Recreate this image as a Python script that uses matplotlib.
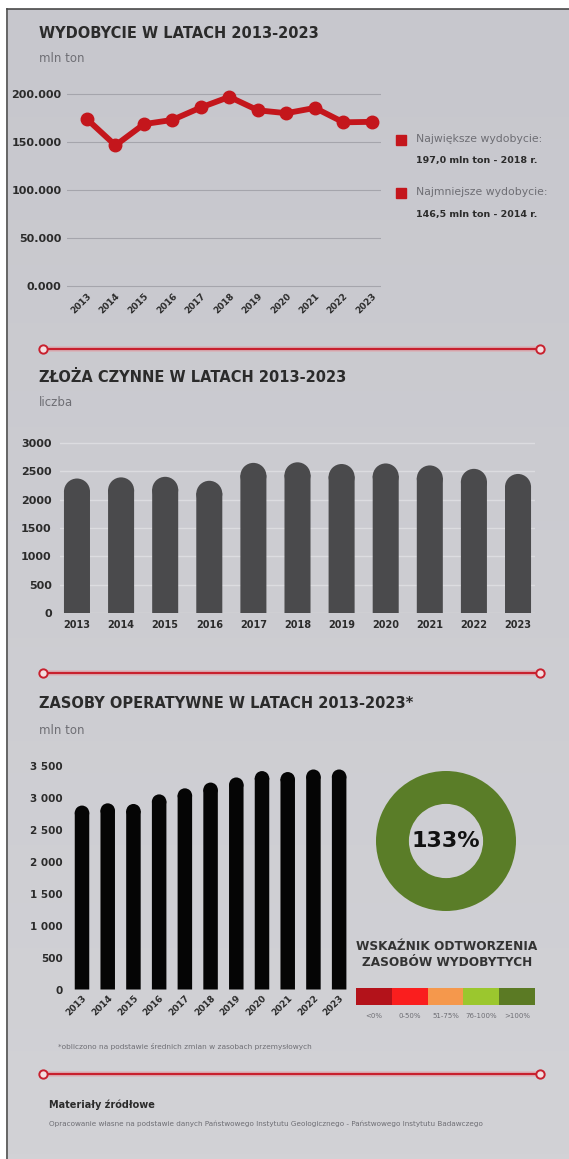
import numpy as np
import matplotlib
matplotlib.use("Agg")
import matplotlib.pyplot as plt
from matplotlib.patches import Ellipse
from matplotlib.ticker import FuncFormatter
from matplotlib.colors import LinearSegmentedColormap

W, H = 569, 1159

years = [str(y) for y in range(2013, 2024)]
# wydobycie, mln ton
wydobycie = [173.8, 146.5, 168.6, 173.0, 186.0, 197.0, 183.0, 180.0, 185.5, 170.5, 171.0]
# liczba zloz czynnych
zloza = [2370, 2390, 2400, 2330, 2645, 2655, 2625, 2635, 2600, 2540, 2450]
# zasoby operatywne, mln ton
zasoby = [2880, 2915, 2905, 3055, 3150, 3240, 3320, 3420, 3405, 3445, 3445]
wskaznik = 133
skala_labels = ["<0%", "0-50%", "51-75%", "76-100%", ">100%"]
skala_colors = ["#b3121a", "#fa1e1e", "#f5984c", "#9bc72e", "#5b7a24"]

RED = "#c4161c"
DARK = "#2b2b2b"
GRAY = "#6e6e74"

plt.rcParams['font.family'] = 'DejaVu Sans'

fig = plt.figure(figsize=(W / 100, H / 100), dpi=100)


def box(x0, y0, x1, y1):
    # pixel box (top-left origin) -> figure fraction rect
    return [x0 / W, 1 - y1 / H, (x1 - x0) / W, (y1 - y0) / H]


def clean(ax):
    ax.set_facecolor('none')
    for s in ax.spines.values():
        s.set_visible(False)
    ax.tick_params(length=0)


def rounded_bars(ax, values, width, color):
    # bars with a half-round cap on top; cap height follows the axes scale
    x0, x1 = ax.get_xlim()
    y0, y1 = ax.get_ylim()
    bb = ax.get_position()
    px_x = bb.width * W / (x1 - x0)
    px_y = bb.height * H / (y1 - y0)
    cap = width / 2 * px_x / px_y
    for i, v in enumerate(values):
        bars = ax.bar(i, v - cap * 0.95, width=width, color=color, linewidth=0, zorder=2)
        for b in bars:
            b.set_snap(False)
        ax.add_patch(Ellipse((i, v - cap), width, 2 * cap, facecolor=color,
                             edgecolor='none', linewidth=0, zorder=2))


# background panel
bg = fig.add_axes([0, 0, 1, 1])
grad = np.linspace(0, 1, 256).reshape(-1, 1)
cmap = LinearSegmentedColormap.from_list('bg', ['#c7c7cd', '#d2d2d6'])
bg.imshow(grad, extent=(8, W, H, 9), cmap=cmap, aspect='auto', zorder=0)
bg.set_xlim(0, W)
bg.set_ylim(H, 0)
bg.axis('off')
bg.plot([7.5, W], [9, 9], color='#4a4a4a', lw=1.2)
bg.plot([7.5, 7.5], [9, H], color='#4a4a4a', lw=1.2)


def separator(y):
    bg.plot([43, 540], [y, y], color='#e59aa2', lw=4, alpha=0.5, solid_capstyle='butt')
    bg.plot([43, 540], [y, y], color='#c8202e', lw=1.6)
    bg.plot([43, 540], [y, y], ls='none', marker='o', ms=6,
            mfc='#f3dfe1', mec='#c8202e', mew=1.4)


for y in (349, 673, 1074):
    separator(y)

title_kw = dict(fontsize=10.5, fontweight='bold', color=DARK, va='center')
sub_kw = dict(fontsize=8.5, color=GRAY, va='center')

# --- wydobycie ---
bg.text(39, 33, "WYDOBYCIE W LATACH 2013-2023", **title_kw)
bg.text(39, 59, "mln ton", **sub_kw)

ax1 = fig.add_axes(box(67, 84, 381, 289))
clean(ax1)
x = np.arange(len(years))
ax1.plot(x, wydobycie, color=RED, lw=4.2, marker='o', ms=9,
         solid_joinstyle='round', zorder=3)
ax1.set_xlim(-0.70, 10.32)
ax1.set_ylim(-3.1, 210.4)
ax1.set_yticks([0, 50, 100, 150, 200])
ax1.yaxis.set_major_formatter(FuncFormatter(lambda v, p: f"{v:.3f}"))
ax1.grid(axis='y', color='#a5a5ac', lw=0.8)
ax1.set_xticks(x, years)
ax1.tick_params(axis='y', pad=4, labelsize=8, labelcolor=DARK)
ax1.tick_params(axis='x', pad=2, labelsize=6.5, labelcolor=DARK)
for lab in ax1.get_xticklabels():
    lab.set_rotation(45)
    lab.set_ha('right')
    lab.set_rotation_mode('anchor')
    lab.set_fontweight('bold')
for lab in ax1.get_yticklabels():
    lab.set_fontweight('bold')

imax = int(np.argmax(wydobycie))
imin = int(np.argmin(wydobycie))
for yy, head, val, i in ((140, "Największe wydobycie:", wydobycie[imax], imax),
                         (193, "Najmniejsze wydobycie:", wydobycie[imin], imin)):
    bg.plot(401, yy, marker='s', ms=7, color=RED, ls='none')
    bg.text(416, yy - 1, head, fontsize=7.8, color=GRAY, va='center')
    bg.text(416, yy + 21, f"{val:.1f}".replace('.', ',') + f" mln ton - {years[i]} r.",
            fontsize=6.8, fontweight='bold', color=DARK, va='center')

# --- zloza czynne ---
bg.text(39, 377, "ZŁOŻA CZYNNE W LATACH 2013-2023", **title_kw)
bg.text(39, 402, "liczba", **sub_kw)

ax2 = fig.add_axes(box(60, 430, 535, 613.3))
clean(ax2)
ax2.set_xlim(-0.385, 10.385)
ax2.set_ylim(0, 3223)
ax2.set_yticks(range(0, 3001, 500))
ax2.grid(axis='y', color='#dcdce0', lw=1.0, zorder=0)
ax2.set_axisbelow(True)
rounded_bars(ax2, zloza, 0.59, '#4a4a4c')
ax2.set_xticks(x, years)
ax2.tick_params(axis='y', pad=6, labelsize=8, labelcolor=DARK)
ax2.tick_params(axis='x', pad=5, labelsize=7, labelcolor=DARK)
for lab in ax2.get_xticklabels() + ax2.get_yticklabels():
    lab.set_fontweight('bold')

# --- zasoby operatywne ---
bg.text(39, 704, "ZASOBY OPERATYWNE W LATACH 2013-2023*", **title_kw)
bg.text(39, 730, "mln ton", **sub_kw)

ax3 = fig.add_axes(box(70, 750, 352, 989.5))
clean(ax3)
ax3.set_xlim(-0.467, 10.5)
ax3.set_ylim(0, 3750)
ax3.set_yticks(range(0, 3501, 500))
ax3.yaxis.set_major_formatter(FuncFormatter(lambda v, p: f"{int(v):,}".replace(',', ' ')))
rounded_bars(ax3, zasoby, 0.564, '#050505')
ax3.set_xticks(x, years)
ax3.tick_params(axis='y', pad=5, labelsize=7.5, labelcolor=DARK)
ax3.tick_params(axis='x', pad=3, labelsize=6.5, labelcolor=DARK)
for lab in ax3.get_xticklabels():
    lab.set_rotation(45)
    lab.set_ha('right')
    lab.set_rotation_mode('anchor')
    lab.set_fontweight('bold')
for lab in ax3.get_yticklabels():
    lab.set_fontweight('bold')

# donut with recovery ratio
axd = fig.add_axes(box(446 - 75, 841 - 75, 446 + 75, 841 + 75))
axd.pie([wskaznik], colors=['#5a7d28'], radius=1, startangle=90,
        wedgeprops=dict(width=0.47, linewidth=0))
axd.set_xlim(-75 / 70, 75 / 70)
axd.set_ylim(-75 / 70, 75 / 70)
axd.set_aspect('equal')
axd.axis('off')
axd.text(0, 0, f"{wskaznik}%", ha='center', va='center', fontsize=16,
         fontweight='bold', color='#111111')

bg.text(447, 947, "WSKAŹNIK ODTWORZENIA", fontsize=8.7, fontweight='bold',
        color='#333333', ha='center', va='center')
bg.text(447, 962, "ZASOBÓW WYDOBYTYCH", fontsize=8.7, fontweight='bold',
        color='#333333', ha='center', va='center')

axs = fig.add_axes(box(356, 988, 535, 1005))
clean(axs)
axs.bar(range(len(skala_colors)), [1] * len(skala_colors), width=1, color=skala_colors)
axs.set_xlim(-0.5, len(skala_colors) - 0.5)
axs.set_ylim(0, 1)
axs.set_yticks([])
axs.set_xticks(range(len(skala_labels)), skala_labels)
axs.tick_params(axis='x', pad=6, labelsize=5, labelcolor=GRAY)

bg.text(58, 1046, "*obliczono na podstawie średnich zmian w zasobach przemysłowych",
        fontsize=5.3, color=GRAY, va='center')

# --- zrodla ---
bg.text(49, 1105, "Materiały źródłowe", fontsize=7, fontweight='bold', color=DARK, va='center')
bg.text(49, 1124, "Opracowanie własne na podstawie danych Państwowego Instytutu Geologicznego"
        " - Państwowego Instytutu Badawczego", fontsize=5.2, color=GRAY, va='center')

fig.savefig("out.png", dpi=100)
